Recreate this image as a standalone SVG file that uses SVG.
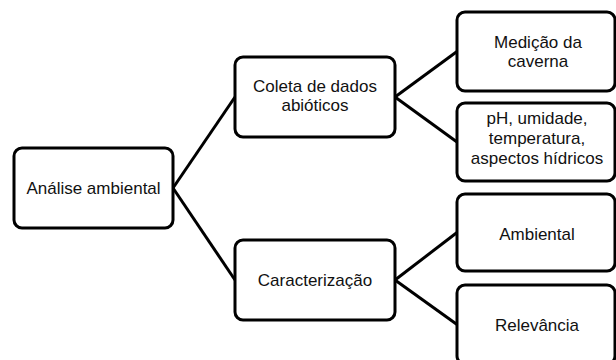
<svg xmlns="http://www.w3.org/2000/svg" width="616" height="360" viewBox="0 0 616 360">
<style>
.box{fill:#fff;stroke:#000;stroke-width:3}
.t{font-family:"Liberation Sans",Arial,sans-serif;font-size:17px;fill:#111;text-anchor:middle}
.c{stroke:#000;stroke-width:3;fill:none}
</style>
<rect width="616" height="360" fill="#fff"/>
<g id="connectors">
<line class="c" x1="173" y1="188" x2="235" y2="97"/>
<line class="c" x1="173" y1="188" x2="235" y2="280"/>
<line class="c" x1="395" y1="97" x2="457" y2="51.5"/>
<line class="c" x1="395" y1="97" x2="457" y2="142"/>
<line class="c" x1="395" y1="280" x2="457" y2="232.5"/>
<line class="c" x1="395" y1="280" x2="457" y2="324.5"/>
</g>
<g id="root">
<rect class="box" x="14" y="148" width="159" height="80" rx="8"/>
<text class="t" x="93.5" y="194">Análise ambiental</text>
</g>
<g id="coleta">
<rect class="box" x="235" y="57" width="160" height="80" rx="8"/>
<text class="t" x="315" y="92">Coleta de dados</text>
<text class="t" x="315" y="111">abióticos</text>
</g>
<g id="caracterizacao">
<rect class="box" x="235" y="240" width="160" height="80" rx="8"/>
<text class="t" x="315" y="286">Caracterização</text>
</g>
<g id="medicao">
<rect class="box" x="457" y="12" width="158" height="79" rx="8"/>
<text class="t" x="538" y="48">Medição da</text>
<text class="t" x="538" y="67">caverna</text>
</g>
<g id="ph">
<rect class="box" x="457" y="103" width="158" height="78" rx="8"/>
<text class="t" x="537" y="124">pH, umidade,</text>
<text class="t" x="537" y="144">temperatura,</text>
<text class="t" x="537" y="164">aspectos hídricos</text>
</g>
<g id="ambiental">
<rect class="box" x="457" y="194" width="158" height="77" rx="8"/>
<text class="t" x="537" y="240">Ambiental</text>
</g>
<g id="relevancia">
<rect class="box" x="457" y="285" width="158" height="79" rx="8"/>
<text class="t" x="537" y="331">Relevância</text>
</g>
</svg>
